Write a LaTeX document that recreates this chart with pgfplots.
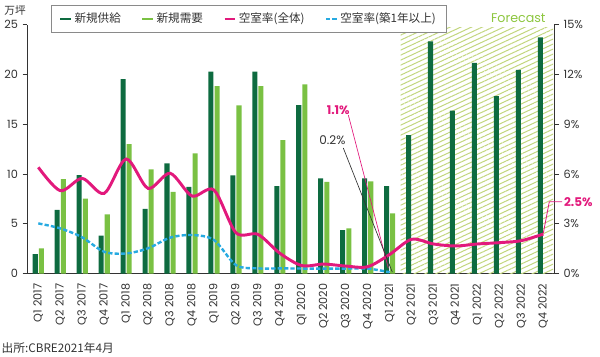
\documentclass[border=0pt]{standalone}
\usepackage{fontspec}
\setmainfont{Poppins}
\newfontfamily\jp{Noto Sans CJK JP}
\usepackage{pgfplots}
\pgfplotsset{compat=1.18}
\usetikzlibrary{patterns.meta}
\definecolor{dg}{HTML}{0E6B40}
\definecolor{lg}{HTML}{7AC143}
\definecolor{pk}{HTML}{E2197C}
\definecolor{bl}{HTML}{27AAE1}
\definecolor{hatchc}{HTML}{C2D67E}
\definecolor{fc}{HTML}{8DC63F}
\definecolor{txt}{HTML}{333333}
\definecolor{axl}{HTML}{333333}
\definecolor{legbd}{HTML}{8A8A8A}
\pgfplotsset{
  base/.style={scale only axis, width=395.25pt, height=186.75pt,
    xmin=-0.5, xmax=23.5, clip=false,
    /pgf/number format/assume math mode=true,
    tick label style={font=\fontsize{8.5}{10}\selectfont, text=txt},
    major tick length=3.5pt, tick align=outside,
    axis line style={draw=axl, line width=0.6pt},
    tick style={draw=axl, line width=0.6pt}},
}
\begin{document}
\begin{tikzpicture}
\useasboundingbox (0pt,0pt) rectangle (450pt,267.75pt);
\begin{axis}[base, at={(20.5pt,62.6pt)}, anchor=south west,
  ymin=0, ymax=25, ytick={0,5,10,15,20,25},
  axis y line*=left, axis x line*=bottom,
  xtick={0,...,23},
  xticklabels={Q1 2017,Q2 2017,Q3 2017,Q4 2017,Q1 2018,Q2 2018,Q3 2018,Q4 2018,Q1 2019,Q2 2019,Q3 2019,Q4 2019,Q1 2020,Q2 2020,Q3 2020,Q4 2020,Q1 2021,Q2 2021,Q3 2021,Q4 2021,Q1 2022,Q2 2022,Q3 2022,Q4 2022},
  xtick style={draw=none},
  x tick label style={rotate=90, anchor=east, font=\fontsize{8.4}{10}\selectfont, xshift=-0.5pt},
]
\fill[pattern={Lines[angle=25,distance=3.4pt,line width=0.75pt]}, pattern color=hatchc]
  (axis cs:16.5,0) rectangle (axis cs:23.45,24.7);
\addplot[ybar, bar width=0.23, bar shift=-0.14, fill=dg, draw=none] coordinates {
(0,1.96) (1,6.38) (2,9.89) (3,3.8) (4,19.53) (5,6.48) (6,11.06) (7,8.7)
(8,20.26) (9,9.86) (10,20.26) (11,8.78) (12,16.92) (13,9.56) (14,4.37) (15,9.56)
(16,8.78) (17,13.9) (18,23.3) (19,16.35) (20,21.16) (21,17.82) (22,20.46) (23,23.7)};
\addplot[ybar, bar width=0.23, bar shift=0.14, fill=lg, draw=none] coordinates {
(0,2.53) (1,9.49) (2,7.51) (3,5.94) (4,13.0) (5,10.46) (6,8.21) (7,12.07)
(8,18.82) (9,16.89) (10,18.82) (11,13.4) (12,19.0) (13,9.2) (14,4.54) (15,9.26) (16,6.04)};
\end{axis}
\begin{axis}[base, at={(20.5pt,62.6pt)}, anchor=south west,
  ymin=0, ymax=15, ytick={0,3,6,9,12,15},
  yticklabel={\pgfmathprintnumber{\tick}\%},
  axis y line*=right, axis x line=none,
  legend image code/.code={\draw[#1] (0pt,0pt) -- (8pt,0pt);},
  legend cell align=left,
  legend style={at={(0.045,1.078)}, anchor=north west, legend columns=4,
    draw=legbd, line width=0.6pt, fill=white,
    font=\jp\fontsize{8.7}{10}\selectfont, text=txt,
    inner xsep=6pt, inner ysep=3.5pt,
    /tikz/every even column/.append style={column sep=13.5pt}},
]
\addlegendimage{dg, line width=1.3pt}
\addlegendentry{新規供給}
\addlegendimage{lg, line width=1.3pt}
\addlegendentry{新規需要}
\addlegendimage{pk, line width=1.3pt}
\addlegendentry{空室率(全体)}
\addlegendimage{bl, line width=1.3pt, dash pattern=on 3.2pt off 1.4pt}
\addlegendentry{空室率(築1年以上)}
\addplot[bl, line width=1.8pt, dash pattern=on 3.2pt off 1.6pt, smooth, tension=0.5, forget plot] coordinates {
(0,3.02) (1,2.72) (2,2.18) (3,1.31) (4,1.21) (5,1.52) (6,2.16) (7,2.32)
(8,2.02) (9,0.51) (10,0.31) (11,0.31) (12,0.3) (13,0.3) (14,0.3) (15,0.3) (16,0.08)};
\addplot[pk, line width=2.2pt, smooth, tension=0.5, forget plot] coordinates {
(0,6.4) (1,4.99) (2,5.73) (3,4.83) (4,6.9) (5,5.13) (6,6.04) (7,4.67)
(8,5.03) (9,2.46) (10,2.36) (11,1.22) (12,0.48) (13,0.57) (14,0.45) (15,0.41)
(16,1.15) (17,2.06) (18,1.78) (19,1.66) (20,1.78) (21,1.86) (22,1.98) (23,2.38)};
\draw[pk, line width=0.5pt] (axis cs:14.12,9.54) -- (axis cs:15.94,0.33);
\draw[txt, line width=0.5pt] (axis cs:13.89,7.56) -- (axis cs:16.12,0.09);
\node[text=pk, font=\bfseries\fontsize{9}{10}\selectfont] at (axis cs:13.66,9.84) {1.1\%};
\node[text=txt, font=\fontsize{9}{10}\selectfont] at (axis cs:13.39,8.04) {0.2\%};
\draw[pk, line width=0.6pt] (axis cs:23.85,4.32) -- (axis cs:23.27,4.32) -- (axis cs:23.0,2.44);
\node[text=pk, font=\bfseries\fontsize{9}{10}\selectfont, anchor=west, inner sep=1pt] at (axis cs:23.87,4.32) {2.5\%};
\node[text=fc, font=\fontsize{9.5}{10}\selectfont] at (axis cs:21.86,15.39) {Forecast};
\end{axis}
\node[font=\jp\fontsize{8}{9}\selectfont, text=txt] at (11.25pt,259.9pt) {万坪};
\node[font=\jp\fontsize{8.8}{9}\selectfont, text=txt, anchor=west, inner sep=0pt] at (1pt,6.75pt) {出所:CBRE2021年4月};
\end{tikzpicture}
\end{document}
